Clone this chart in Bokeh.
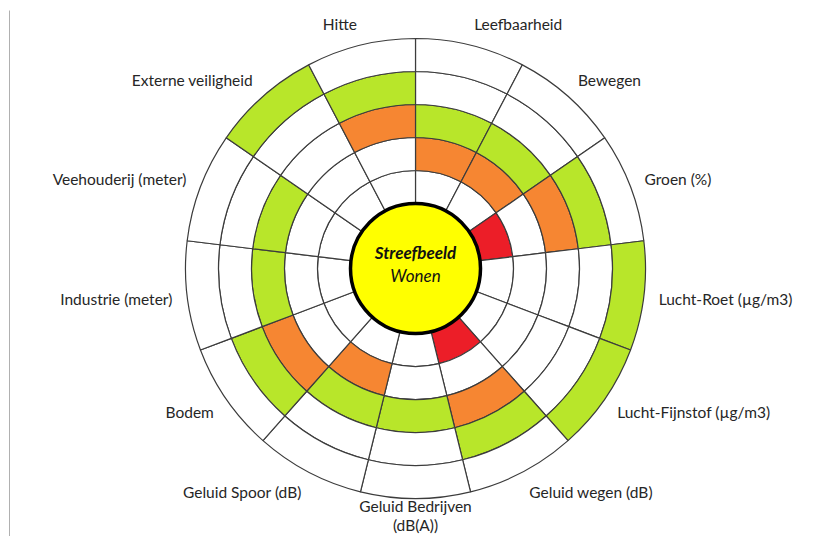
import math
from bokeh.plotting import figure
from bokeh.models import Range1d, ColumnDataSource
from bokeh.core.properties import value
from bokeh.embed import file_html
from bokeh.resources import INLINE

# ---- data -------------------------------------------------------------
categories = ["Leefbaarheid", "Bewegen", "Groen (%)", "Lucht-Roet (µg/m3)",
              "Lucht-Fijnstof (µg/m3)", "Geluid wegen (dB)",
              "Geluid Bedrijven\n(dB(A))", "Geluid Spoor (dB)", "Bodem",
              "Industrie (meter)", "Veehouderij (meter)", "Externe veiligheid",
              "Hitte"]
# ring (1 = innermost ... 5 = outermost) holding each colour, 0 = none
red_ring    = [0, 0, 1, 0, 0, 1, 0, 0, 0, 0, 0, 0, 0]
orange_ring = [2, 2, 3, 0, 0, 3, 0, 2, 3, 0, 0, 0, 3]
green_ring  = [3, 3, 4, 5, 5, 4, 3, 3, 4, 3, 3, 5, 4]
n_rings = 5
center_title = "Streefbeeld"
center_sub = "Wonen"

# ---- styling ----------------------------------------------------------
GREEN, ORANGE, RED, YELLOW = "#B8E62A", "#F68632", "#EC1E28", "#FFFF00"
LINE = "#3c3c3c"
R_IN, R_OUT = 65, 230
FONT = "Lato"
TXT = "#262626"

p = figure(width=814, height=536, x_range=Range1d(-415, 399),
           y_range=Range1d(-268, 268), output_backend="svg",
           toolbar_location=None, min_border=0,
           x_axis_location=None, y_axis_location=None)
p.grid.visible = False
p.outline_line_color = None
p.background_fill_color = "white"
p.border_fill_color = "white"

n = len(categories)
step = 2 * math.pi / n
dr = (R_OUT - R_IN) / n_rings

xs, ys, inner, outer, starts, ends, colors = [], [], [], [], [], [], []
for i in range(n):
    a_end = math.pi / 2 - i * step
    a_start = a_end - step
    for ring in range(1, n_rings + 1):
        c = "white"
        if red_ring[i] == ring:
            c = RED
        elif orange_ring[i] == ring:
            c = ORANGE
        elif green_ring[i] == ring:
            c = GREEN
        xs.append(0); ys.append(0)
        inner.append(R_IN + (ring - 1) * dr)
        outer.append(R_IN + ring * dr)
        starts.append(a_start); ends.append(a_end)
        colors.append(c)

src = ColumnDataSource(dict(x=xs, y=ys, inner=inner, outer=outer,
                            start=starts, end=ends, color=colors))
p.annular_wedge(x="x", y="y", inner_radius="inner", outer_radius="outer",
                start_angle="start", end_angle="end", fill_color="color",
                line_color=LINE, line_width=1.2, source=src)

p.circle(x=[0], y=[0], radius=R_IN, fill_color=YELLOW, line_color="black",
         line_width=3.5)

p.text(x=[0], y=[16], text=[center_title], text_font=value(FONT),
       text_font_size="17px", text_font_style="bold italic",
       text_align="center", text_baseline="middle", text_color="#111111")
p.text(x=[0], y=[-7], text=[center_sub], text_font=value(FONT),
       text_font_size="17px", text_font_style="italic",
       text_align="center", text_baseline="middle", text_color="#111111")

# category labels
groups = {"left": ([], [], []), "right": ([], [], [])}
bottom = ([], [], [])
for i, name in enumerate(categories):
    mid = math.pi / 2 - (i + 0.5) * step
    c, s = math.cos(mid), math.sin(mid)
    if abs(c) < 0.05:
        bottom[0].append(0)
        bottom[1].append(228 * s)
        bottom[2].append(name)
        continue
    g = "left" if c > 0 else "right"
    groups[g][0].append(245 * c)
    groups[g][1].append(252 * s)
    groups[g][2].append(name)

for align, (gx, gy, gt) in groups.items():
    p.text(x=gx, y=gy, text=gt, text_font=value(FONT),
           text_font_size="15.5px", text_align=align,
           text_baseline="middle", text_color=TXT)

p.text(x=bottom[0], y=bottom[1], text=bottom[2], text_font=value(FONT),
       text_font_size="15.5px", text_align="center", text_baseline="top",
       text_color=TXT, text_line_height=1.1)

# thin page border line at the left
p.segment(x0=[-406], y0=[258], x1=[-406], y1=[-268], line_color="#b0b0b0",
          line_width=1)

open("out.html", "w").write(file_html(p, INLINE))
